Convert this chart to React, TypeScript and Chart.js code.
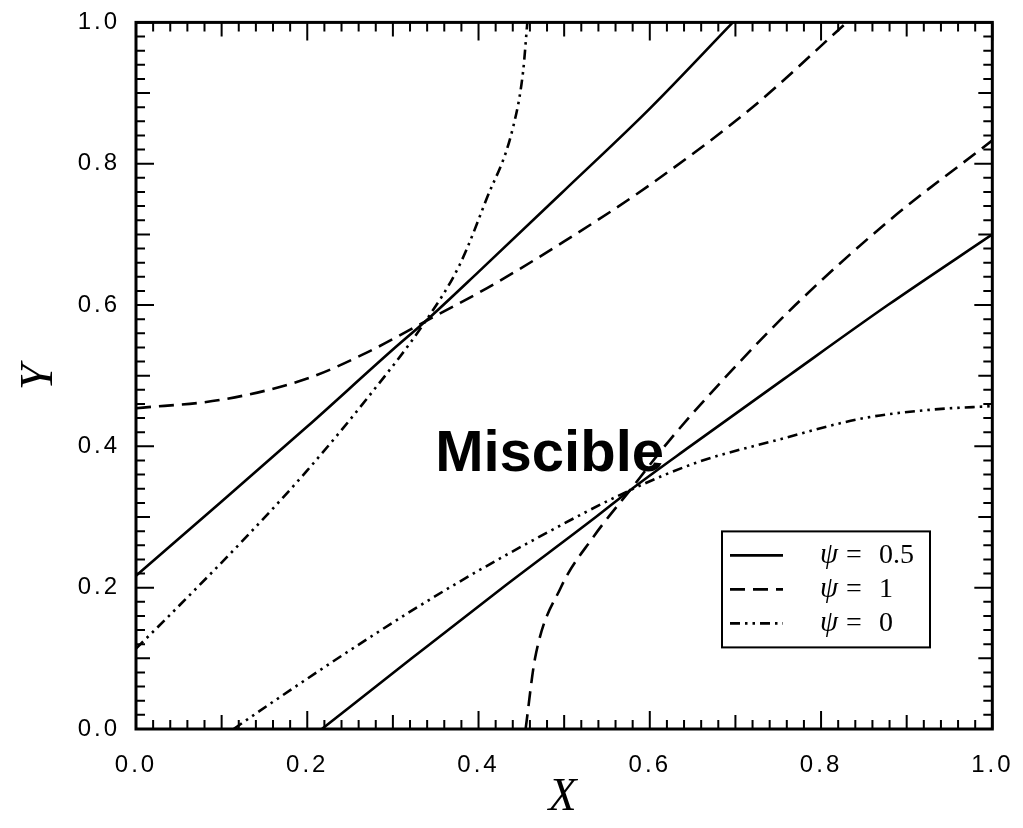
import React, { useEffect, useRef } from 'react';
import { Chart, registerables } from 'chart.js';

Chart.register(...registerables);

// Tick labels
const tickValues = [0, 0.2, 0.4, 0.6, 0.8, 1.0];
const tickLabels = ['0.0', '0.2', '0.4', '0.6', '0.8', '1.0'];

// psi = 0.5 (solid)
const solidUpperX = [0, 0.1, 0.2, 0.3, 0.338, 0.4, 0.5, 0.6, 0.697];
const solidUpperY = [0.217, 0.322, 0.428, 0.537, 0.577, 0.647, 0.762, 0.878, 1.0];
const solidLowerX = [0.217, 0.322, 0.428, 0.537, 0.577, 0.647, 0.762, 0.878, 1.0];
const solidLowerY = [0, 0.1, 0.2, 0.3, 0.338, 0.4, 0.5, 0.6, 0.7];

// psi = 1 (dashed)
const dashedUpperX = [0, 0.1, 0.2, 0.27, 0.338, 0.41, 0.5, 0.6, 0.72, 0.83];
const dashedUpperY = [0.454, 0.466, 0.496, 0.533, 0.577, 0.624, 0.69, 0.77, 0.88, 1.0];
const dashedLowerX = [0.455, 0.466, 0.496, 0.533, 0.577, 0.624, 0.69, 0.77, 0.88, 1.0];
const dashedLowerY = [0, 0.1, 0.2, 0.27, 0.338, 0.41, 0.5, 0.6, 0.72, 0.833];

// psi = 0 (dash-dot-dot)
const dotUpperX = [0, 0.036, 0.132, 0.2, 0.27, 0.338, 0.378, 0.409, 0.44, 0.452, 0.457];
const dotUpperY = [0.114, 0.157, 0.276, 0.366, 0.468, 0.577, 0.657, 0.749, 0.85, 0.93, 1.0];
const dotLowerX = [0.114, 0.157, 0.276, 0.366, 0.468, 0.577, 0.657, 0.749, 0.85, 0.93, 1.0];
const dotLowerY = [0, 0.036, 0.132, 0.2, 0.27, 0.338, 0.378, 0.409, 0.44, 0.452, 0.457];

const legendLabels = ['0.5', '1', '0'];
const annotationText = 'Miscible';

const SOLID: number[] = [];
const DASHED = [15, 8];
const DASHDOT = [10, 5, 2.5, 5, 2.5, 5];
const legendDashes = [SOLID, DASHED, DASHDOT];

const pts = (xs: number[], ys: number[]) => xs.map((x, i) => ({ x, y: ys[i] }));

const mkSet = (xs: number[], ys: number[], dash: number[]) => ({
  data: pts(xs, ys),
  borderColor: '#000',
  borderWidth: 2.6,
  borderDash: dash,
  pointRadius: 0,
  cubicInterpolationMode: 'monotone' as const,
  fill: false,
});

const spacingPlugin = {
  id: 'spacing',
  beforeDraw(chart: any) {
    chart.ctx.letterSpacing = '3px';
  },
  beforeDatasetsDraw(chart: any) {
    chart.ctx.letterSpacing = '0px';
  },
};

const framePlugin = {
  id: 'frame',
  afterDatasetsDraw(chart: any) {
    const { ctx, chartArea: a, scales } = chart;
    const xs = scales.x;
    const ys = scales.y;
    ctx.save();
    ctx.letterSpacing = '0px';
    ctx.strokeStyle = '#000';
    ctx.setLineDash([]);
    ctx.lineWidth = 2;
    for (let i = 0; i <= 50; i++) {
      const v = i / 50;
      const len = i % 10 === 0 ? 18 : i % 5 === 0 ? 14 : 9;
      const px = xs.getPixelForValue(v);
      const py = ys.getPixelForValue(v);
      ctx.beginPath();
      ctx.moveTo(px, a.bottom);
      ctx.lineTo(px, a.bottom - len);
      ctx.moveTo(px, a.top);
      ctx.lineTo(px, a.top + len);
      ctx.moveTo(a.left, py);
      ctx.lineTo(a.left + len, py);
      ctx.moveTo(a.right, py);
      ctx.lineTo(a.right - len, py);
      ctx.stroke();
    }
    ctx.lineWidth = 3;
    ctx.strokeRect(a.left, a.top, a.right - a.left, a.bottom - a.top);

    // Annotation
    ctx.fillStyle = '#000';
    ctx.font = 'bold 58px "Liberation Sans", Arial, sans-serif';
    ctx.textAlign = 'center';
    ctx.textBaseline = 'alphabetic';
    ctx.fillText(annotationText, xs.getPixelForValue(0.483), ys.getPixelForValue(0.365));

    // Legend
    const bx = a.left + 586;
    const by = a.top + 509;
    const bw = 208;
    const bh = 116;
    ctx.lineWidth = 2;
    ctx.strokeRect(bx, by, bw, bh);
    legendLabels.forEach((lab, i) => {
      const cy = by + 24 + i * 34;
      ctx.beginPath();
      ctx.lineWidth = 2.6;
      ctx.setLineDash(legendDashes[i]);
      ctx.moveTo(bx + 8, cy);
      ctx.lineTo(bx + 61, cy);
      ctx.stroke();
      ctx.setLineDash([]);
      ctx.textBaseline = 'middle';
      ctx.textAlign = 'left';
      ctx.font = 'italic 29px "Liberation Serif", "Times New Roman", serif';
      ctx.fillText('ψ', bx + 98, cy);
      ctx.font = '28px "Liberation Serif", "Times New Roman", serif';
      ctx.textAlign = 'center';
      ctx.fillText('=', bx + 132, cy);
      ctx.textAlign = 'left';
      ctx.fillText(lab, bx + 157, cy);
    });
    ctx.restore();
  },
};

export default function App() {
  const ref = useRef<HTMLCanvasElement>(null);
  useEffect(() => {
    document.body.style.margin = '0';
    const tickFont = { family: '"Liberation Sans", Arial, sans-serif', size: 24 };
    const titleFont = { family: '"Liberation Serif", "Times New Roman", serif', size: 46, style: 'italic' as const };
    const cb = (v: any) => {
      const idx = tickValues.findIndex((t) => Math.abs(t - Number(v)) < 1e-6);
      return idx >= 0 ? tickLabels[idx] : '';
    };
    const chart = new Chart(ref.current!, {
      type: 'line',
      data: {
        datasets: [
          mkSet(solidUpperX, solidUpperY, SOLID),
          mkSet(solidLowerX, solidLowerY, SOLID),
          mkSet(dashedUpperX, dashedUpperY, DASHED),
          mkSet(dashedLowerX, dashedLowerY, DASHED),
          mkSet(dotUpperX, dotUpperY, DASHDOT),
          mkSet(dotLowerX, dotLowerY, DASHDOT),
        ] as any,
      },
      options: {
        responsive: false,
        animation: false,
        layout: { padding: { top: 20, right: 23, left: 0, bottom: 0 } },
        plugins: { legend: { display: false }, tooltip: { enabled: false } },
        scales: {
          x: {
            type: 'linear',
            min: 0,
            max: 1,
            grid: { display: false },
            border: { display: false },
            ticks: { stepSize: 0.2, callback: cb, font: tickFont, color: '#000', padding: 14, maxRotation: 0, autoSkip: false },
            title: { display: true, text: 'X', font: titleFont, color: '#000', padding: { top: 0, bottom: 2 } },
            afterFit: (s: any) => { s.height = 99; },
          },
          y: {
            type: 'linear',
            min: 0,
            max: 1,
            grid: { display: false },
            border: { display: false },
            ticks: { stepSize: 0.2, callback: cb, font: tickFont, color: '#000', padding: 8, autoSkip: false },
            title: { display: true, text: 'Y', font: titleFont, color: '#000', padding: { top: 12, bottom: 0 } },
            afterFit: (s: any) => { s.width = 136; },
          },
        },
      },
      plugins: [spacingPlugin, framePlugin],
    });
    return () => chart.destroy();
  }, []);
  return (
    <div style={{ width: 1023, height: 828 }}>
      <canvas ref={ref} width={1023} height={828} style={{ display: 'block' }} />
    </div>
  );
}
